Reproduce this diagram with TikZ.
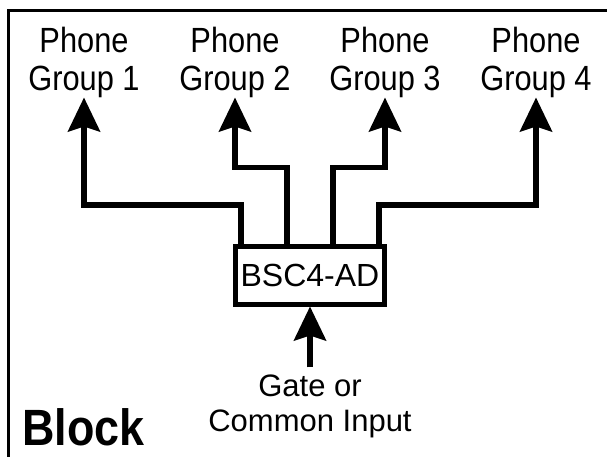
\documentclass[tikz,border=0pt]{standalone}
\usepackage{fontspec}
\setmainfont{Liberation Sans}
\newfontfamily\tallfont[FakeStretch=0.88]{Liberation Sans}
\usetikzlibrary{arrows.meta,calc}

\begin{document}
\begin{tikzpicture}[x=1pt, y=-1pt,
  lbl/.style={inner sep=0pt, align=center, font=\tallfont\fontsize{35}{38}\selectfont},
  feed/.style={line width=5.5pt, -{Stealth[length=34pt, width=32pt, inset=5pt]}}]
  \useasboundingbox (0,0) rectangle (607,457);
  % --- frame (cut off at right and bottom)
  \draw[line width=3pt] (8,457) -- (8,11) -- (607,11);
  % --- phone groups
  \node[lbl] (grp1) at (84,62) {Phone\\Group 1};
  \node[lbl] (grp2) at (235,62) {Phone\\Group 2};
  \node[lbl] (grp3) at (385,62) {Phone\\Group 3};
  \node[lbl] (grp4) at (536,62) {Phone\\Group 4};
  % --- splitter box
  \node[draw, line width=5pt, minimum width=149pt, minimum height=57.5pt, inner sep=0pt,
        font=\fontsize{32}{38}\selectfont] (bsc) at (310,275.25) {BSC4-AD};
  \draw[feed] ([xshift=-69pt]bsc.north) -- ++(0,-39) -| (grp1.south);
  \draw[feed] ([xshift=-23pt]bsc.north) -- ++(0,-76.5) -| (grp2.south);
  \draw[feed] ([xshift=23pt]bsc.north) -- ++(0,-76.5) -| (grp3.south);
  \draw[feed] ([xshift=69pt]bsc.north) -- ++(0,-39) -| (grp4.south);
  % --- input
  \node[lbl, font=\fontsize{31}{35}\selectfont] (gate) at (310,406.5) {Gate or\\Common Input};
  \draw[feed, shorten <=7.5pt] (gate.north) -- (bsc.south);
  \node[inner sep=0pt, anchor=base west, font=\tallfont\bfseries\fontsize{51}{51}\selectfont] (title) at (22,445) {Block};
\end{tikzpicture}
\end{document}
